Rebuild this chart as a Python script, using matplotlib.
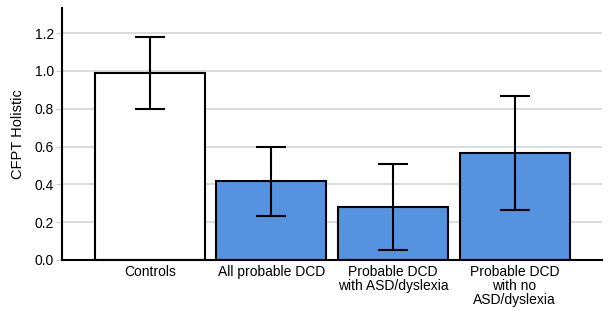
# CFPT Holistic bar chart with error bars
import numpy as np
import matplotlib.pyplot as plt

plt.rcParams['font.family'] = ['Liberation Sans', 'DejaVu Sans']

groups = ['Controls', 'All probable DCD', 'Probable DCD\nwith ASD/dyslexia',
          'Probable DCD\nwith no\nASD/dyslexia']
means = [0.99, 0.415, 0.28, 0.565]
err_low = [0.80, 0.23, 0.05, 0.265]
err_high = [1.18, 0.60, 0.505, 0.865]
colors = ['white', '#5592e0', '#5592e0', '#5592e0']


def main():
    x = np.arange(len(groups))
    m = np.array(means)
    yerr = [m - np.array(err_low), np.array(err_high) - m]

    fig = plt.figure(figsize=(6.1, 3.17), dpi=100)
    ax = fig.add_axes([0.102, 0.18, 0.885, 0.795])

    ax.bar(x, means, width=0.905, color=colors, edgecolor='black',
           linewidth=1.5, zorder=2)
    ax.errorbar(x, means, yerr=yerr, fmt='none', ecolor='black',
                elinewidth=1.5, capsize=10.5, capthick=1.5, zorder=3)

    ax.set_xlim(-0.72, 3.72)
    ax.set_ylim(0, 1.333)
    ax.set_yticks(np.arange(0, 1.21, 0.2))
    ax.set_yticklabels(['%.1f' % v for v in np.arange(0, 1.21, 0.2)])
    ax.set_xticks(x)
    ax.set_xticklabels(groups, fontsize=10, linespacing=0.97)
    ax.tick_params(axis='x', length=0, pad=4)
    ax.tick_params(axis='y', length=4, color='#cccccc', labelsize=10, pad=2)
    ax.yaxis.grid(True, color='#d6d6d6', linewidth=1.2, zorder=0)
    ax.set_axisbelow(True)

    for s in ['top', 'right']:
        ax.spines[s].set_visible(False)
    ax.spines['left'].set_linewidth(1.5)
    ax.spines['bottom'].set_linewidth(1.5)

    ax.set_ylabel('CFPT Holistic', fontsize=10.5, labelpad=7)

    fig.savefig('out.png', dpi=100)


if __name__ == '__main__':
    main()
